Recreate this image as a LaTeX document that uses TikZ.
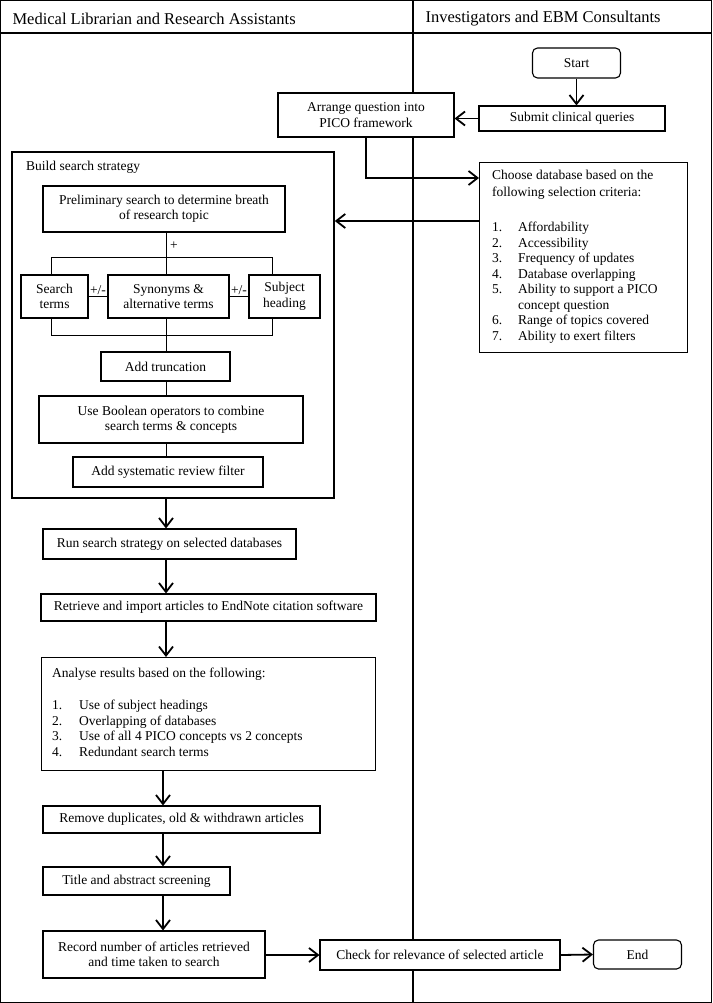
\documentclass[tikz,border=0pt]{standalone}
\usepackage{fontspec}
\setmainfont{Liberation Serif}
\usetikzlibrary{arrows.meta}
\newcommand\bodyfont{\fontsize{13.5}{15.5}\selectfont}
\newcommand\headfont{\fontsize{16.5}{19}\selectfont}
\tikzset{box/.style={draw,fill=white,line width=1.1pt,inner sep=0pt,align=center},
         rbox/.style={box,rounded corners=5pt},
         arr/.style={-{Straight Barb[length=9pt,width=14pt]},line width=1.8pt},
         link/.style={line width=0.9pt},
         lane/.style={line width=1.1pt}}

\begin{document}
\begin{tikzpicture}[x=1pt,y=-1pt,font=\bodyfont]
\useasboundingbox (0,0) rectangle (712,1003);
% swimlanes
\draw[lane](0.6,0.6) rectangle (711.4,1002.4);
\draw[lane](0.6,33)--(711.4,33);
\draw[lane](413,0.6)--(413,1002.4);
\node[anchor=west](lhead)at(9,18.5){\headfont Medical Librarian and Research Assistants};
\node[anchor=west](rhead)at(422,18.5){\headfont Investigators and EBM Consultants};

% top of the flow
\node[rbox,minimum width=88,minimum height=30](start)at(576.5,63){Start};
\node[box,minimum width=186,minimum height=25](submit)at(572,118.5){Submit clinical queries};
\node[box,minimum width=176,minimum height=44](arrange)at(366,115){Arrange question into\\PICO framework};
\node[box,minimum width=208,minimum height=190,anchor=north west](choose)at(479,162){};
\node[anchor=north west,align=left,inner sep=0pt](crit)at(492,170){Choose database based on the\\[1.5pt]
  following selection criteria:\\[19.5pt]
  \makebox[26pt][l]{1.}Affordability\\
  \makebox[26pt][l]{2.}Accessibility\\
  \makebox[26pt][l]{3.}Frequency of updates\\
  \makebox[26pt][l]{4.}Database overlapping\\
  \makebox[26pt][l]{5.}Ability to support a PICO\\
  \hspace*{26pt}concept question\\
  \makebox[26pt][l]{6.}Range of topics covered\\
  \makebox[26pt][l]{7.}Ability to exert filters};
\coordinate(chin)at([yshift=-16pt]choose.north west);
\coordinate(chout)at([yshift=-59pt]choose.north west);

% build search strategy
\node[box,line width=1.8pt,fill=none,minimum width=322,minimum height=346,anchor=north west](build)at(11,151){};
\node[anchor=base west,inner sep=0pt](buildlbl)at(26,171){Build search strategy};
\node[box,minimum width=242,minimum height=46](prelim)at(164,209){Preliminary search to determine breath\\of research topic};
\node(plus)at(174,246){+};
\node[box,minimum width=67,minimum height=43](sterm)at(54.5,296.5){Search\\terms};
\node[box,minimum width=121,minimum height=43](syn)at(168.5,296.5){Synonyms \&\\alternative terms};
\node[box,minimum width=71,minimum height=43](subj)at(284.5,296.5){Subject\\heading};
\node[box,minimum width=129,minimum height=29](trunc)at(165.5,366.5){Add truncation};
\node[box,minimum width=264,minimum height=47](bool)at(171,419.5){Use Boolean operators to combine\\search terms \& concepts};
\node[box,minimum width=190,minimum height=30](filt)at(168,472){Add systematic review filter};
\coordinate(spine)at(166,0);
\coordinate(tl)at(51,257);
\coordinate(tr)at(272,257);
\coordinate(bl)at(51,335);
\coordinate(br)at(272,335);

% search and screening
\node[box,minimum width=253,minimum height=30](run)at(169.5,544){Run search strategy on selected databases};
\node[box,minimum width=335,minimum height=27](retr)at(208.5,607.5){Retrieve and import articles to EndNote citation software};
\node[box,minimum width=334,minimum height=113,anchor=north west](anal)at(41,657){};
\node[anchor=north west,align=left,inner sep=0pt](anlist)at(52,668){Analyse results based on the following:\\[16.5pt]
  \makebox[27pt][l]{1.}Use of subject headings\\
  \makebox[27pt][l]{2.}Overlapping of databases\\
  \makebox[27pt][l]{3.}Use of all 4 PICO concepts vs 2 concepts\\
  \makebox[27pt][l]{4.}Redundant search terms};
\node[box,minimum width=277,minimum height=27](remove)at(181.5,819.5){Remove duplicates, old \& withdrawn articles};
\node[box,minimum width=187,minimum height=28](title)at(136.5,881){Title and abstract screening};
\node[box,minimum width=222,minimum height=47](record)at(154,954.5){Record number of articles retrieved\\and time taken to search};
\node[box,minimum width=240,minimum height=30](check)at(440,955){Check for relevance of selected article};
\node[rbox,minimum width=88,minimum height=29](finish)at(637.5,954.5){End};
\coordinate(spinelow)at(163,0);

% connectors
\draw[arr](start.south)--(start.south |- submit.north);
\draw[arr](submit.west)--(arrange.east |- submit.west);
\draw[arr](arrange.south)|-(chin);
\draw[arr](chout)--(chout -| build.east);
\draw[link](prelim.south -| spine)--(syn.north -| spine);
\draw[link](sterm.north -| tl)--(tl)--(tr)--(subj.north -| tr);
\draw[link](sterm.south -| bl)--(bl)--(br)--(subj.south -| br);
\draw[link](sterm.east)--(syn.west)node[midway,above,inner sep=1pt]{+/-};
\draw[link](syn.east)--(subj.west)node[midway,above,inner sep=1pt]{+/-};
\draw[link](syn.south -| spine)--(trunc.north -| spine);
\draw[link](trunc.south -| spine)--(bool.north -| spine);
\draw[link](bool.south -| spine)--(filt.north -| spine);
\draw[arr](build.south -| spine)--(run.north -| spine);
\draw[arr](run.south -| spine)--(retr.north -| spine);
\draw[arr](retr.south -| spine)--(anal.north -| spine);
\draw[arr](anal.south -| spinelow)--(remove.north -| spinelow);
\draw[arr](remove.south -| spinelow)--(title.north -| spinelow);
\draw[arr](title.south -| spinelow)--(record.north -| spinelow);
\draw[arr](record.east |- check.west)--(check.west);
\draw[arr](check.east)--(finish.west);
\end{tikzpicture}
\end{document}
